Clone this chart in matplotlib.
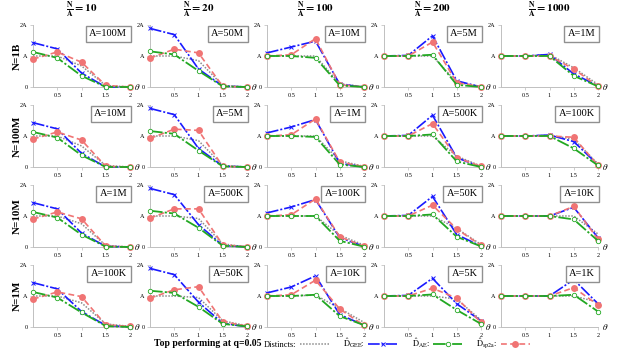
import matplotlib
matplotlib.use("Agg")
import matplotlib.pyplot as plt
from matplotlib.lines import Line2D

plt.rcParams['font.family'] = ['Liberation Serif', 'DejaVu Serif']
plt.rcParams['mathtext.fontset'] = 'stix'

theta = [0, 0.5, 1, 1.5, 2]
ratios = ['10', '20', '100', '200', '1000']
row_n = ['1B', '100M', '10M', '1M']
a_labels = [['100M', '50M', '10M', '5M', '1M'],
            ['10M', '5M', '1M', '500K', '100K'],
            ['1M', '500K', '100K', '50K', '10K'],
            ['100K', '50K', '10K', '5K', '1K']]

distincts = [
    [[1.0, 1.0, 0.68, 0.05, 0.0], [1.0, 1.0, 0.85, 0.05, 0.0], [1.0, 1.0, 1.0, 0.10, 0.01],
     [1.0, 1.0, 1.0, 0.15, 0.02], [1.0, 1.0, 1.05, 0.62, 0.08]],
    [[1.0, 1.0, 0.68, 0.05, 0.0], [1.0, 1.0, 0.85, 0.05, 0.0], [1.0, 1.0, 1.0, 0.20, 0.02],
     [1.0, 1.0, 1.0, 0.35, 0.03], [1.0, 1.0, 1.02, 0.90, 0.10]],
    [[1.0, 1.0, 0.75, 0.05, 0.0], [1.0, 1.0, 0.92, 0.10, 0.0], [1.0, 1.0, 1.0, 0.38, 0.06],
     [1.0, 1.0, 1.0, 0.60, 0.08], [1.0, 1.0, 1.0, 1.0, 0.42]],
    [[1.0, 1.0, 0.78, 0.10, 0.02], [1.0, 1.0, 0.95, 0.20, 0.04], [1.0, 1.0, 1.03, 0.60, 0.15],
     [1.0, 1.0, 1.0, 0.90, 0.22], [1.0, 1.0, 1.0, 1.0, 0.80]],
]
gee = [
    [[1.43, 1.23, 0.45, 0.0, 0.0], [1.89, 1.69, 0.58, 0.03, 0.0], [1.10, 1.29, 1.48, 0.09, 0.0],
     [1.0, 1.02, 1.65, 0.20, 0.0], [1.0, 1.0, 1.05, 0.42, 0.04]],
    [[1.43, 1.23, 0.44, 0.0, 0.0], [1.89, 1.69, 0.60, 0.03, 0.0], [1.10, 1.29, 1.53, 0.12, 0.0],
     [1.0, 1.02, 1.67, 0.30, 0.0], [1.0, 1.0, 1.03, 0.82, 0.07]],
    [[1.43, 1.23, 0.45, 0.02, 0.0], [1.89, 1.69, 0.72, 0.05, 0.0], [1.10, 1.29, 1.53, 0.30, 0.02],
     [1.0, 1.02, 1.63, 0.40, 0.03], [1.0, 1.0, 1.0, 1.28, 0.30]],
    [[1.43, 1.23, 0.50, 0.05, 0.0], [1.89, 1.69, 0.80, 0.12, 0.01], [1.10, 1.29, 1.65, 0.40, 0.06],
     [1.0, 1.02, 1.57, 0.75, 0.20], [1.0, 1.0, 1.0, 1.53, 0.75]],
]
ae = [
    [[1.13, 0.94, 0.36, 0.0, 0.0], [1.15, 1.05, 0.52, 0.02, 0.0], [1.0, 1.0, 0.94, 0.05, 0.0],
     [1.0, 1.0, 1.04, 0.07, 0.0], [1.0, 1.0, 1.0, 0.36, 0.02]],
    [[1.13, 0.95, 0.38, 0.0, 0.0], [1.16, 1.07, 0.53, 0.02, 0.0], [1.0, 1.0, 0.97, 0.08, 0.0],
     [1.0, 1.0, 1.05, 0.18, 0.0], [1.0, 1.0, 1.0, 0.60, 0.05]],
    [[1.13, 0.95, 0.40, 0.01, 0.0], [1.17, 1.08, 0.62, 0.04, 0.0], [1.0, 1.0, 1.0, 0.20, 0.01],
     [1.0, 1.0, 1.05, 0.33, 0.02], [1.0, 1.0, 1.0, 0.89, 0.20]],
    [[1.13, 0.95, 0.47, 0.03, 0.0], [1.17, 1.10, 0.65, 0.10, 0.02], [1.0, 1.0, 1.04, 0.35, 0.06],
     [1.0, 1.0, 1.05, 0.55, 0.10], [1.0, 1.0, 1.0, 1.04, 0.50]],
]
sp2a = [
    [[0.90, 1.13, 0.80, 0.05, 0.0], [0.93, 1.22, 1.10, 0.02, 0.0], [1.0, 1.04, 1.56, 0.07, 0.0],
     [1.0, 1.0, 1.45, 0.14, 0.01], [1.0, 1.0, 1.0, 0.58, 0.02]],
    [[0.90, 1.13, 0.87, 0.02, 0.0], [0.92, 1.22, 1.18, 0.02, 0.0], [1.0, 1.04, 1.55, 0.16, 0.01],
     [1.0, 1.0, 1.40, 0.30, 0.02], [1.0, 1.0, 1.0, 0.96, 0.05]],
    [[0.90, 1.13, 0.91, 0.03, 0.0], [0.93, 1.23, 1.23, 0.07, 0.01], [1.0, 1.04, 1.55, 0.33, 0.02],
     [1.0, 1.0, 1.35, 0.58, 0.05], [1.0, 1.0, 1.0, 1.31, 0.25]],
    [[0.90, 1.13, 0.98, 0.07, 0.02], [0.93, 1.20, 1.30, 0.17, 0.03], [1.0, 1.04, 1.51, 0.58, 0.05],
     [1.0, 1.0, 1.25, 0.93, 0.15], [1.0, 1.0, 1.0, 1.27, 0.71]],
]

W, H = 619, 351
fig = plt.figure(figsize=(W / 100, H / 100), dpi=100)

lefts = [33, 150, 267, 384, 501]
tops = [25, 105, 185, 265]
aw, ah = 97, 62

c_gray = '#8c8c8c'
c_blue = '#1a1aff'
c_green = '#22a822'
c_red = '#f07474'

style_d = dict(color=c_gray, lw=1.1, ls=(0, (1, 1)))
style_g = dict(color=c_blue, lw=1.2, ls=(0, (7, 1.2, 1.2, 1.2)), marker='x', ms=3.2, mew=0.7)
style_a = dict(color=c_green, lw=1.3, ls=(0, (7, 1.2, 1.2, 1.2)), marker='o', ms=3.2, mew=0.6, mfc='white')
style_s = dict(color=c_red, lw=1.2, ls=(0, (3.5, 2)), marker='o', ms=5.0, mew=0)

for r in range(4):
    for c in range(5):
        ax = fig.add_axes([lefts[c] / W, 1 - (tops[r] + ah) / H, aw / W, ah / H])
        ax.plot(theta, distincts[r][c], clip_on=False, zorder=3, **style_d)
        ax.plot(theta, gee[r][c], clip_on=False, zorder=4, **style_g)
        ax.plot(theta, ae[r][c], clip_on=False, zorder=5, **style_a)
        ax.plot(theta, sp2a[r][c], clip_on=False, zorder=4.5, **style_s)
        ax.set_xlim(0, 2)
        ax.set_ylim(0, 2)
        ax.set_xticks([0.5, 1, 1.5, 2])
        ax.set_xticklabels(['0.5', '1', '1.5', '2'])
        ax.set_yticks([0, 1, 2])
        ax.set_yticklabels(['0', 'A', '2A'])
        ax.tick_params(labelsize=4.5, length=2, width=0.5, color='#bbbbbb', pad=2)
        for s in ['top', 'right']:
            ax.spines[s].set_visible(False)
        for s in ['left', 'bottom']:
            ax.spines[s].set_color('#c0c0c0')
            ax.spines[s].set_linewidth(0.7)
        ax.text(1.04, 0.0, r'$\theta$', transform=ax.transAxes, fontsize=6.5,
                ha='left', va='center')
        ax.text(0.97, 0.86, 'A=' + a_labels[r][c], transform=ax.transAxes,
                fontsize=7.5, ha='right', va='center', zorder=10,
                bbox=dict(boxstyle='square,pad=0.35', fc='white', ec='#909090', lw=1.0))
        if r == 0:
            ax.set_title(r'$\mathbf{\frac{N}{A}=' + ratios[c] + r'}$', fontsize=8, pad=9)
        if c == 0:
            ax.text(-0.16, 0.5, 'N=' + row_n[r], transform=ax.transAxes, rotation=90,
                    fontsize=8, fontweight='bold', ha='center', va='center')

fig.text(208 / W, 1 - 343.5 / H, 'Top performing at q=0.05', fontsize=7,
         fontweight='bold', ha='center', va='center')

handles = [Line2D([], [], **style_d), Line2D([], [], **style_g),
           Line2D([], [], **style_a), Line2D([], [], **style_s)]
labels = ['Distincts:', r'$\hat{\mathrm{D}}_{\mathrm{GEE}}$:',
          r'$\hat{\mathrm{D}}_{\mathrm{AE}}$:', r'$\hat{\mathrm{D}}_{\mathrm{sp2a}}$:']
fig.legend(handles, labels, loc='center left', bbox_to_anchor=(260 / W, 1 - 344 / H),
           ncol=4, frameon=False, markerfirst=False, fontsize=6,
           handlelength=3.5, columnspacing=1.7, handletextpad=0.4, borderpad=0)

fig.savefig('out.png', dpi=100)
